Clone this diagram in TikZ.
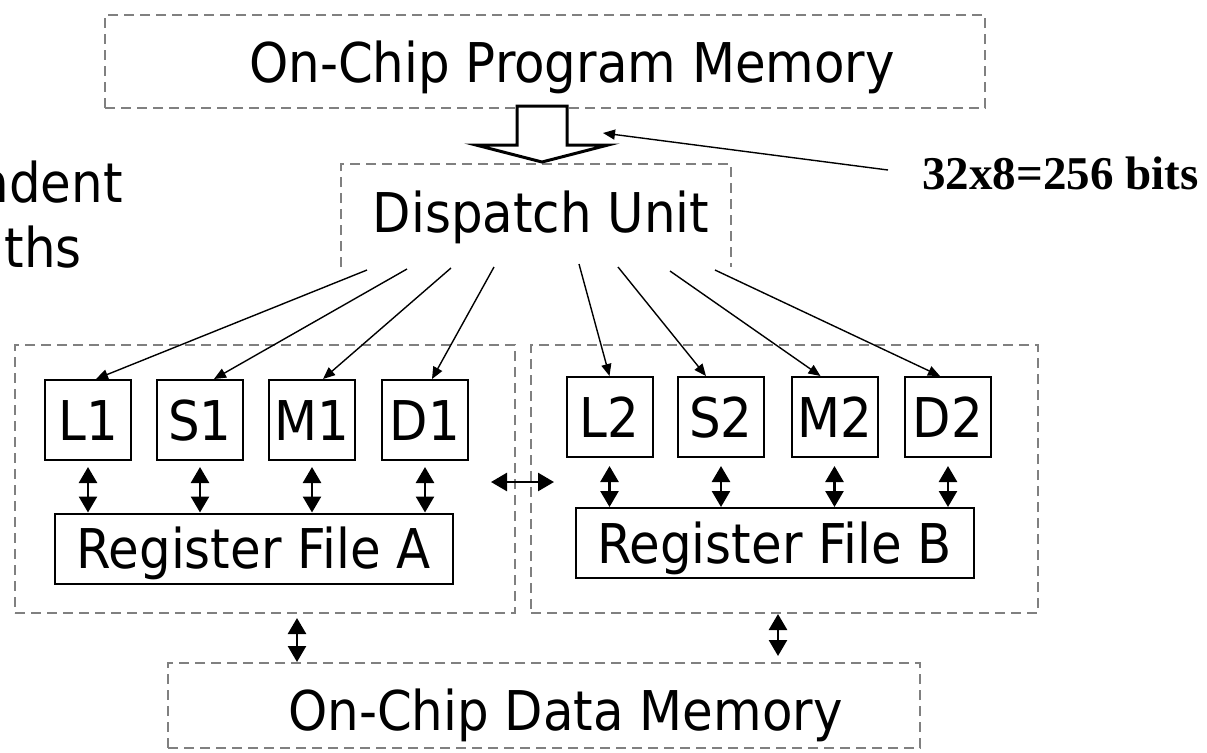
\documentclass[tikz,border=0pt]{standalone}
\usepackage{fontspec}
\setmainfont{DejaVu Sans}[FakeStretch=0.91]
\newfontfamily\bitsfont{Liberation Serif}
\usetikzlibrary{arrows.meta,calc}

\tikzset{
  grp/.style={draw=black!50, line width=1pt, dash pattern=on 5pt off 3pt},
  fu/.style={draw, line width=1pt, minimum width=43pt, minimum height=40pt, inner sep=0pt, text height=20pt, text depth=0pt},
  rf/.style={draw, line width=1pt, minimum width=199pt, minimum height=35pt, inner sep=0pt, text height=20pt, text depth=0pt},
  lbl/.style={inner sep=0pt, text height=20pt, text depth=0pt},
  issue/.style={line width=0.7pt, -{Triangle[length=6pt,width=5pt]}},
  bus/.style={line width=1.3pt, {Triangle[length=8pt,width=9pt]}-{Triangle[length=8pt,width=9pt]}},
}

\begin{document}
\begin{tikzpicture}[x=0.5pt,y=-0.5pt,font=\fontsize{27.4}{32}\selectfont]
  \useasboundingbox (0,0) rectangle (1207,752);
  \clip (0,0) rectangle (1207,752);

  % memories and dispatch
  \node[grp, minimum width=440pt, minimum height=46.5pt] (prog) at (545,61.5) {};
  \node[lbl] (progtxt) at (572,62) {On-Chip Program Memory};
  \draw[grp] (341,267) |- (731,164) -- (731,267);
  \node[lbl] (disp) at (541,212) {Dispatch Unit};
  \node[grp, minimum width=376pt, minimum height=42.5pt] (data) at (544,705.5) {};
  \node[lbl] (datatxt) at (565.5,710) {On-Chip Data Memory};

  % cut-off text on the left
  \node[anchor=base east, inner sep=0pt] (txt1) at (123,202) {ndent};
  \node[anchor=base east, inner sep=0pt] (txt2) at (82,267) {ths};

  % fetch packet
  \draw[line width=1.5pt, fill=white, line join=miter] (517,106) -- (567,106) -- (567,145) -- (608,145)
    -- (542,162) -- (476,145) -- (517,145) -- cycle;
  \node[anchor=base west, inner sep=0pt, font=\bitsfont\bfseries\fontsize{23.5}{28}\selectfont] (bits) at (922,189) {32x8=256 bits};
  \coordinate (bitsfrom) at (888,170);
  \coordinate (fetch) at (603,133);
  \draw[issue] (bitsfrom) -- (fetch);

  % the two sides
  \node[grp, minimum width=250pt, minimum height=134pt] (grpA) at (265,479) {};
  \node[grp, minimum width=253.5pt, minimum height=134pt] (grpB) at (784.5,479) {};

  \foreach \u/\x/\y in {L1/88/420, S1/200/420, M1/312/420, D1/425/420,
                        L2/609.5/417, S2/721/417, M2/834.5/417, D2/948/417}
    \node[fu] (\u) at (\x,\y) {\u};

  \node[rf] (regA) at (253.5,548.5) {Register File A};
  \node[rf] (regB) at (774.5,543) {Register File B};

  % dispatch to units
  \foreach \sx/\sy/\u/\dx in {367/270/L1/8, 407/269/S1/14, 451/268/M1/11, 494/267/D1/7,
                              579/264/L2/0, 618/267/S2/-15, 670/271/M2/-14, 715/270/D2/-8} {
    \coordinate (out-\u) at (\sx,\sy);
    \draw[issue] (out-\u) -- ($(\u.north)+(\dx,0)$);
  }

  % units to register files
  \foreach \u in {L1,S1,M1,D1}
    \draw[bus] ($(\u.south)+(0,6)$) -- (\u.south |- regA.north);
  \foreach \u in {L2,S2,M2,D2}
    \draw[bus] ($(\u.south)+(0,8)$) -- (\u.south |- regB.north);

  % cross path
  \draw[bus] ($(grpA.east)+(-25,3)$) -- ($(grpB.west)+(24,3)$);

  % register files to data memory
  \coordinate (ma) at (297,0);
  \coordinate (mb) at (778,0);
  \draw[bus] ($(grpA.south -| ma)+(0,4)$) -- (data.north -| ma);
  \draw[bus] (grpB.south -| mb) -- ($(data.north -| mb)+(0,-6)$);
\end{tikzpicture}
\end{document}
